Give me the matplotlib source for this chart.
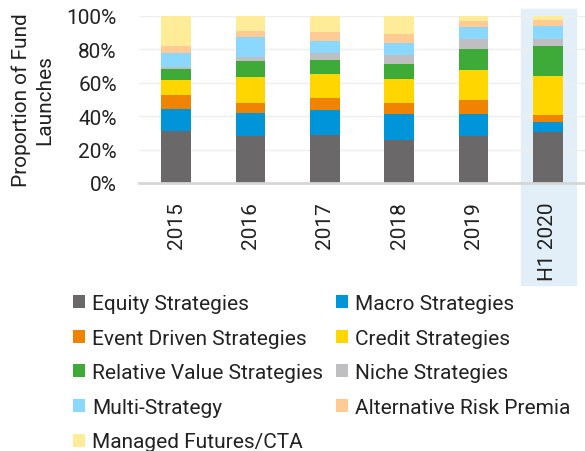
import matplotlib
matplotlib.use("Agg")
import matplotlib.pyplot as plt
from matplotlib.patches import Rectangle
import numpy as np

plt.rcParams['font.family'] = ['Roboto', 'DejaVu Sans']

periods = ["2015", "2016", "2017", "2018", "2019", "H1 2020"]

strategies = [
    "Equity Strategies", "Macro Strategies",
    "Event Driven Strategies", "Credit Strategies",
    "Relative Value Strategies", "Niche Strategies",
    "Multi-Strategy", "Alternative Risk Premia",
    "Managed Futures/CTA",
]

equity = [31.2, 28.2, 28.8, 25.6, 28.2, 30.4]
macro = [13.2, 13.8, 14.8, 15.6, 13.0, 6.0]
event_driven = [8.4, 6.0, 7.4, 6.8, 8.6, 4.4]
credit = [8.8, 15.6, 14.2, 14.2, 18.0, 23.2]
relative_value = [6.8, 9.6, 8.4, 9.0, 12.4, 18.0]
niche = [1.2, 2.4, 4.2, 5.6, 6.0, 4.2]
multi = [8.4, 12.0, 7.4, 7.2, 7.2, 7.8]
arp = [4.0, 3.6, 5.2, 5.2, 3.6, 3.8]
managed_futures = [18.0, 8.8, 9.6, 10.8, 3.0, 2.2]

colors = ["#6a6868", "#0095d8", "#f08300", "#ffd600", "#3eaa38",
          "#bfbfc1", "#8bd8ff", "#ffcb94", "#ffec99"]

series = [equity, macro, event_driven, credit, relative_value,
          niche, multi, arp, managed_futures]

fig = plt.figure(figsize=(5.85, 4.52), dpi=100)
ax = fig.add_axes([139 / 585, 1 - 184 / 452, 446 / 585, 167 / 452])
ax.set_facecolor("none")

# highlight for the half-year period
fig.patches.append(Rectangle((521 / 585, 1 - 286 / 452), 55 / 585, 276 / 452,
                             transform=fig.transFigure, color="#e2eef8",
                             zorder=-1))

x = np.arange(len(periods))
bottom = np.zeros(len(periods))
handles = []
for vals, col, name in zip(series, colors, strategies):
    b = ax.bar(x, vals, width=0.4, bottom=bottom, color=col, label=name,
               zorder=3, linewidth=0)
    bottom += np.array(vals)
    handles.append(b)

ax.set_xlim(-0.5, 5.5)
ax.set_ylim(0, 100)
ax.set_yticks([0, 20, 40, 60, 80, 100])
ax.set_yticklabels(["0%", "20%", "40%", "60%", "80%", "100%"])
ax.set_xticks(x)
ax.set_xticklabels(periods, rotation=90)
ax.tick_params(axis="y", length=0, pad=16, labelsize=15, labelcolor="#222222")
ax.tick_params(axis="x", length=0, pad=13, labelsize=15, labelcolor="#222222")
ax.grid(axis="y", color="#eeeeee", linewidth=1, zorder=0)
for s in ["top", "right", "left"]:
    ax.spines[s].set_visible(False)
ax.spines["bottom"].set_color("#d6d6d6")
ax.spines["bottom"].set_linewidth(2)
ax.spines["bottom"].set_zorder(4)

fig.text(33 / 585, 1 - 100 / 452, "Proportion of Fund\nLaunches", rotation=90,
         ha="center", va="center", multialignment="center", fontsize=15,
         color="#222222", linespacing=1.25)

# legend reads row by row in the reference
order = [0, 2, 4, 6, 8, 1, 3, 5, 7]
fig.legend(handles=[handles[i] for i in order],
           labels=[strategies[i] for i in order], ncol=2, loc="upper left",
           bbox_to_anchor=(73 / 585, 1 - 295 / 452), frameon=False,
           fontsize=15, handlelength=0.58, handleheight=0.58,
           handletextpad=0.34, borderpad=0, borderaxespad=0,
           columnspacing=0.6, labelspacing=0.75, labelcolor="#222222")

fig.savefig("out.png", dpi=100)
